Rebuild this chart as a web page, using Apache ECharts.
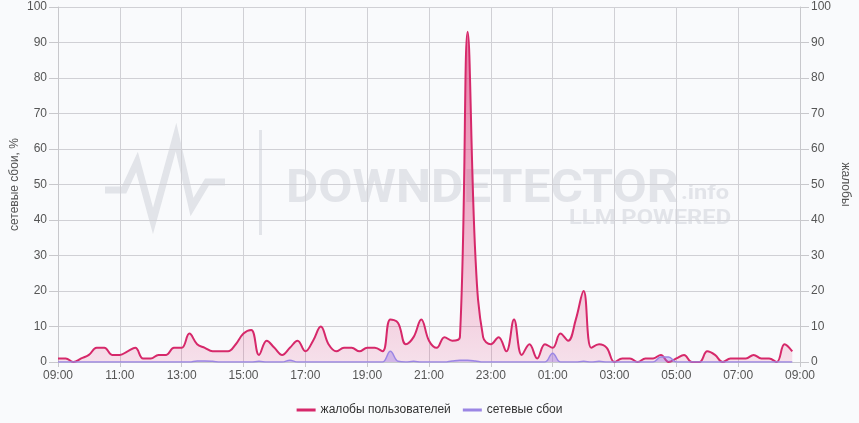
<!DOCTYPE html>
<html>
<head>
<meta charset="utf-8">
<script src="https://cdn.jsdelivr.net/npm/echarts@6/dist/echarts.min.js"></script>
<style>
  html, body { margin: 0; padding: 0; background: #f9fafc; }
  #main { width: 859px; height: 423px; }
</style>
</head>
<body>
<div id="main"></div>
<script>
// 15-минутные отсчёты с 09:00 до 08:45
var complaints = [
  1, 1, 0, 1, 2, 4, 4, 2, 2, 3, 4, 1, 1, 2, 2, 4,
  4, 8, 5, 4, 3, 3, 3, 5, 8, 9, 2, 6, 4, 2, 4, 6,
  3, 6, 10, 5, 3, 4, 4, 3, 4, 4, 3, 12, 11, 5, 7, 12,
  6, 4, 7, 6, 7, 93, 30, 7, 5, 7, 3, 12, 2, 5, 1, 5,
  4, 8, 6, 12, 20, 4, 5, 4, 0, 1, 1, 0, 1, 1, 2, 0,
  1, 2, 0, 0, 3, 2, 0, 1, 1, 1, 2, 1, 1, 0, 5, 3
];
var outages = [
  0, 0, 0, 0, 0, 0, 0, 0, 0, 0, 0, 0, 0, 0, 0, 0,
  0, 0, 0.3, 0.3, 0.2, 0, 0, 0, 0, 0, 0.2, 0, 0, 0, 0.5, 0,
  0, 0, 0, 0, 0, 0, 0, 0, 0, 0, 0, 3, 0.2, 0, 0.2, 0,
  0, 0, 0, 0.3, 0.5, 0.5, 0.3, 0, 0, 0, 0, 0, 0, 0, 0, 0,
  2.5, 0, 0, 0, 0.2, 0, 0.2, 0, 0, 0, 0, 0, 0, 0, 1.4, 1.4,
  0, 0, 0, 0, 0, 0, 0, 0, 0, 0, 0, 0, 0, 0, 0, 0
];

var times = [];
for (var i = 0; i <= 96; i++) {
  var m = (9 * 60 + i * 15) % (24 * 60);
  var hh = Math.floor(m / 60), mm = m % 60;
  times.push((hh < 10 ? '0' : '') + hh + ':' + (mm < 10 ? '0' : '') + mm);
}

var font = 'Liberation Sans, Arial, sans-serif';
var pink = '#d6286a';
var violet = '#9b86e4';
var wm = '#e2e4e9';

var myChart = echarts.init(document.getElementById('main'));

var option = {
  backgroundColor: '#f9fafc',
  textStyle: { fontFamily: font },
  animation: false,
  grid: { left: 58, right: 59, top: 7, bottom: 61, outerBoundsMode: 'none', containLabel: false },
  legend: {
    top: 399,
    left: 'center',
    icon: 'rect',
    itemWidth: 19,
    itemHeight: 3,
    itemGap: 12,
    textStyle: { fontSize: 12, color: '#333', fontFamily: font },
    data: ['жалобы пользователей', 'сетевые сбои']
  },
  graphic: {
    z: -10,
    elements: [
      {
        type: 'polyline', z: -10, silent: true,
        shape: { points: [[105, 190], [124, 190], [137, 162], [153, 221], [176, 137], [192, 207], [207, 182], [225, 182]] },
        style: { stroke: wm, lineWidth: 7, fill: null, lineJoin: 'miter' }
      },
      {
        type: 'rect', z: -10, silent: true,
        shape: { x: 259, y: 130, width: 3, height: 105 },
        style: { fill: wm }
      },
      {
        type: 'text', z: -10, silent: true, x: 286, y: 167, scaleX: 1.08,
        style: { text: 'DOWNDETECTOR', font: 'bold 46px Roboto, sans-serif', fill: wm }
      },
      {
        type: 'text', z: -10, silent: true, x: 681, y: 183, scaleX: 1.12,
        style: { text: '.info', font: 'bold 21px Roboto, sans-serif', fill: wm }
      },
      {
        type: 'text', z: -10, silent: true, x: 569, y: 208, scaleX: 1.13,
        style: { text: 'LLM POWERED', font: 'bold 21px Roboto, sans-serif', fill: wm }
      }
    ]
  },
  xAxis: {
    type: 'category',
    boundaryGap: false,
    data: times,
    axisLine: { lineStyle: { color: '#c8c8cc' } },
    axisTick: { show: true, interval: 7, length: 5, lineStyle: { color: '#c8c8cc' } },
    axisLabel: { interval: 7, color: '#555', fontSize: 12, margin: 8, fontFamily: font },
    splitLine: { show: true, interval: 7, lineStyle: { color: '#d0d0d5' } }
  },
  yAxis: [
    {
      type: 'value',
      min: 0, max: 100, interval: 10,
      name: 'сетевые сбои, %',
      nameLocation: 'middle',
      nameGap: 37,
      nameRotate: 90,
      nameMoveOverlap: false,
      nameTextStyle: { color: '#555', fontSize: 12, fontFamily: font },
      axisLine: { show: true, lineStyle: { color: '#c8c8cc' } },
      axisTick: { show: true, length: 9, lineStyle: { color: '#c8c8cc' } },
      axisLabel: { color: '#555', fontSize: 12, margin: 11, fontFamily: font },
      splitLine: { show: true, lineStyle: { color: '#d0d0d5' } }
    },
    {
      type: 'value',
      min: 0, max: 100, interval: 10,
      position: 'right',
      name: 'жалобы',
      nameLocation: 'middle',
      nameGap: 39,
      nameRotate: -90,
      nameMoveOverlap: false,
      nameTextStyle: { color: '#555', fontSize: 12, fontFamily: font },
      axisLine: { show: true, lineStyle: { color: '#c8c8cc' } },
      axisTick: { show: true, length: 9, lineStyle: { color: '#c8c8cc' } },
      axisLabel: { color: '#555', fontSize: 12, margin: 11, fontFamily: font },
      splitLine: { show: false }
    }
  ],
  series: [
    {
      name: 'жалобы пользователей',
      type: 'line',
      yAxisIndex: 1,
      smooth: 0.4,
      symbol: 'none',
      data: complaints,
      itemStyle: { color: pink },
      lineStyle: { color: pink, width: 2 },
      areaStyle: {
        color: new echarts.graphic.LinearGradient(0, 0, 0, 1, [
          { offset: 0, color: 'rgba(222,40,110,0.85)' },
          { offset: 1, color: 'rgba(222,40,110,0.18)' }
        ])
      },
      z: 3
    },
    {
      name: 'сетевые сбои',
      type: 'line',
      yAxisIndex: 0,
      smooth: 0.4,
      symbol: 'none',
      data: outages,
      itemStyle: { color: violet },
      lineStyle: { color: violet, width: 1.5 },
      areaStyle: { color: 'rgba(150,115,230,0.55)' },
      z: 4
    }
  ]
};

myChart.setOption(option);
window.addEventListener('resize', function () {
  myChart.resize();
});
</script>
</body>
</html>
